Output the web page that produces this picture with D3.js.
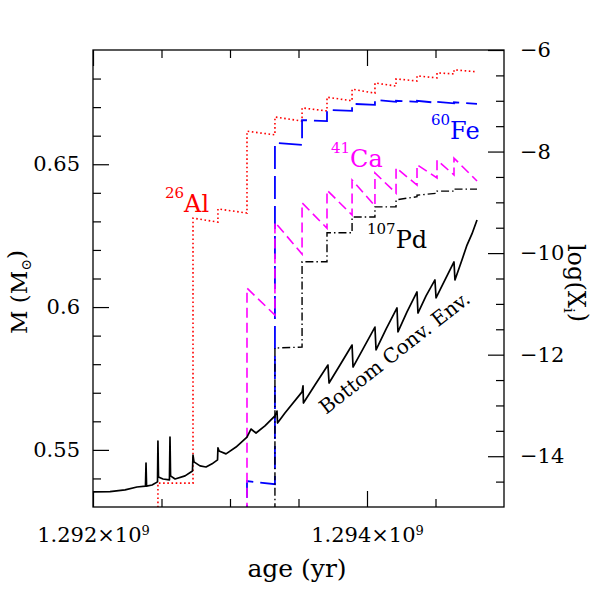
<!DOCTYPE html>
<html>
<head>
<meta charset="utf-8">
<script src="https://cdn.jsdelivr.net/npm/d3@7"></script>
<style>
  body { margin: 0; background: #fff; }
  text { font-family: "DejaVu Serif", serif; }
</style>
</head>
<body>
<div id="chart"></div>
<script>
// thermal pulse ages (yr) and end of run
var pulseAge = [1.292474e9, 1.292730e9, 1.292912e9, 1.293124e9, 1.293328e9, 1.293526e9,
                1.293708e9, 1.293891e9, 1.294058e9, 1.294212e9, 1.294365e9, 1.294511e9, 1.294635e9];
var lastAge = 1.294803e9;

// log(X) right after each pulse and just before the next one
var alStart = [-14.53, -9.31, -9.13, -7.60, -7.32, -7.14, -6.93, -6.77, -6.65, -6.57, -6.51, -6.45, -6.39];
var alEnd   = [-14.53, -9.39, -9.21, -7.67, -7.40, -7.20, -7.00, -6.85, -6.71, -6.61, -6.55, -6.47, -6.43];
var feStart = [-14.49, -7.83, -7.38, -7.18, -7.06, -6.98, -7.00, -7.00, -7.02, -7.03];
var feEnd   = [-14.55, -7.87, -7.40, -7.20, -7.08, -7.02, -7.02, -7.04, -7.05, -7.06];
var caStart = [-10.69, -9.39, -9.01, -8.76, -8.56, -8.42, -8.32, -8.26, -8.17, -8.13];
var caEnd   = [-11.22, -10.02, -9.51, -9.25, -9.07, -8.82, -8.66, -8.52, -8.46, -8.58];
var pdStart = [-11.87, -10.17, -9.60, -9.29, -9.09, -8.95, -8.86, -8.78, -8.74];
var pdEnd   = [-11.85, -10.17, -9.60, -9.29, -9.09, -8.89, -8.82, -8.78, -8.74];

// mass coordinate of the bottom of the convective envelope
var envAge = [1.292000e9, 1.292124e9, 1.292234e9, 1.292321e9, 1.292383e9, 1.292387e9, 1.292391e9,
              1.292431e9, 1.292471e9, 1.292474e9, 1.292478e9, 1.292511e9, 1.292558e9, 1.292562e9,
              1.292566e9, 1.292599e9, 1.292672e9, 1.292726e9, 1.292730e9, 1.292737e9, 1.292781e9,
              1.292825e9, 1.292869e9, 1.292909e9, 1.292912e9, 1.292920e9, 1.292971e9, 1.293044e9,
              1.293124e9, 1.293153e9, 1.293190e9, 1.293255e9, 1.293328e9, 1.293343e9, 1.293347e9,
              1.293401e9, 1.293526e9, 1.293533e9, 1.293536e9, 1.293620e9, 1.293715e9, 1.293723e9,
              1.293803e9, 1.293891e9, 1.293898e9, 1.293978e9, 1.294058e9, 1.294066e9, 1.294139e9,
              1.294219e9, 1.294226e9, 1.294292e9, 1.294365e9, 1.294372e9, 1.294431e9, 1.294496e9,
              1.294504e9, 1.294562e9, 1.294635e9, 1.294642e9, 1.294693e9, 1.294730e9, 1.294766e9,
              1.294803e9];
var envMass = [0.5353, 0.5354, 0.5360, 0.5370, 0.5373, 0.5454, 0.5373,
               0.5377, 0.5388, 0.5531, 0.5405, 0.5398, 0.5395, 0.5545,
               0.5409, 0.5398, 0.5409, 0.5426, 0.5482, 0.5458, 0.5444,
               0.5440, 0.5451, 0.5465, 0.5507, 0.5496, 0.5486, 0.5510,
               0.5545, 0.5573, 0.5559, 0.5584, 0.5619, 0.5636, 0.5594,
               0.5629, 0.5703, 0.5724, 0.5664, 0.5727, 0.5797, 0.5734,
               0.5797, 0.5867, 0.5790, 0.5860, 0.5930, 0.5850, 0.5923,
               0.5997, 0.5913, 0.5983, 0.6053, 0.5979, 0.6039, 0.6095,
               0.6032, 0.6088, 0.6158, 0.6095, 0.6165, 0.6217, 0.6256,
               0.6305];

var massTicks = [0.55, 0.6, 0.65];
var logTicks = [-14, -12, -10, -8, -6];
var ageTicks = [1.292e9, 1.294e9];

var width = 599, height = 599;
var pL = 93, pR = 504, pT = 50, pB = 507;

var svg = d3.select('#chart').append('svg').attr('width', width).attr('height', height);

var x = d3.scaleLinear().domain([1.292e9, 1.295e9]).range([pL, pR]);
var yM = d3.scaleLinear().domain([0.53, 0.69]).range([pB, pT]);
var yL = d3.scaleLinear().domain([-15, -6]).range([pB, pT]);

svg.append('clipPath').attr('id', 'plot')
    .append('rect').attr('x', pL).attr('y', pT).attr('width', pR - pL).attr('height', pB - pT);

// step curves: vertical jump at each pulse, straight decay until the next one
function steps(first, start, end) {
    var pts = [[pulseAge[first], -16]];
    for (var i = 0; i < start.length; i++) {
        var t0 = pulseAge[first + i];
        var t1 = first + i + 1 < pulseAge.length ? pulseAge[first + i + 1] : lastAge;
        pts.push([t0, start[i]], [t1, end[i]]);
    }
    return pts;
}

var logLine = d3.line().x(function (d) { return x(d[0]); }).y(function (d) { return yL(d[1]); });
var massLine = d3.line().x(function (d) { return x(d[0]); }).y(function (d) { return yM(d[1]); });

var g = svg.append('g').attr('clip-path', 'url(#plot)');

var curves = [
    { pts: steps(0, alStart, alEnd), color: '#ff0000', dash: '1.6,2.6', w: 1.6 },
    { pts: steps(3, feStart, feEnd), color: '#0000ff', dash: '23,7', w: 1.8 },
    { pts: steps(3, caStart, caEnd), color: '#ff00ff', dash: '10,5', w: 1.6 },
    { pts: steps(4, pdStart, pdEnd), color: '#000000', dash: '8,3,1.5,3', w: 1.4 }
];
curves.forEach(function (c) {
    g.append('path').attr('d', logLine(c.pts))
        .attr('fill', 'none').attr('stroke', c.color)
        .attr('stroke-width', c.w).attr('stroke-dasharray', c.dash);
});

g.append('path').attr('d', massLine(d3.zip(envAge, envMass)))
    .attr('fill', 'none').attr('stroke', '#000').attr('stroke-width', 1.7)
    .attr('stroke-linejoin', 'round');

// axes, ticks pointing inward
function styleAxis(sel) {
    sel.select('.domain').remove();
    sel.selectAll('line').attr('stroke', '#000').attr('stroke-width', 1.2);
    sel.selectAll('text').attr('font-family', '"DejaVu Serif", serif').attr('font-size', 21).attr('fill', '#000');
}

var minorM = d3.range(0.54, 0.685, 0.01).filter(function (v) {
    return massTicks.every(function (t) { return Math.abs(t - v) > 1e-6; });
});
var minorL = d3.range(-14.5, -6, 0.5).filter(function (v) { return v % 2 !== 0; });
var minorX = [1.2925e9, 1.293e9, 1.2935e9, 1.2945e9];

svg.append('g').attr('transform', 'translate(' + pL + ',0)')
    .call(d3.axisLeft(yM).tickValues(massTicks).tickSize(-16).tickPadding(13)
        .tickFormat(function (d) { return String(d); }))
    .call(styleAxis);
svg.append('g').attr('transform', 'translate(' + pL + ',0)')
    .call(d3.axisLeft(yM).tickValues(minorM).tickSize(-8).tickFormat(''))
    .call(styleAxis);

svg.append('g').attr('transform', 'translate(' + pR + ',0)')
    .call(d3.axisRight(yL).tickValues(logTicks).tickSize(-16).tickPadding(16))
    .call(styleAxis);
svg.append('g').attr('transform', 'translate(' + pR + ',0)')
    .call(d3.axisRight(yL).tickValues(minorL).tickSize(-8).tickFormat(''))
    .call(styleAxis);

var xb = svg.append('g').attr('transform', 'translate(0,' + pB + ')')
    .call(d3.axisBottom(x).tickValues(ageTicks).tickSize(-16).tickPadding(20))
    .call(styleAxis);
xb.selectAll('text').text(null).each(function (d) {
    var t = d3.select(this);
    t.append('tspan').text(d3.format('.3f')(d / 1e9) + '×10');
    t.append('tspan').attr('font-size', 13).attr('dy', '-0.55em').text('9');
});
svg.append('g').attr('transform', 'translate(0,' + pB + ')')
    .call(d3.axisBottom(x).tickValues(minorX).tickSize(-8).tickFormat(''))
    .call(styleAxis);
svg.append('g').attr('transform', 'translate(0,' + pT + ')')
    .call(d3.axisTop(x).tickValues(ageTicks).tickSize(-16).tickFormat(''))
    .call(styleAxis);
svg.append('g').attr('transform', 'translate(0,' + pT + ')')
    .call(d3.axisTop(x).tickValues(minorX).tickSize(-8).tickFormat(''))
    .call(styleAxis);

svg.append('rect').attr('x', pL).attr('y', pT)
    .attr('width', pR - pL).attr('height', pB - pT)
    .attr('fill', 'none').attr('stroke', '#000').attr('stroke-width', 1.3);

// axis titles
svg.append('text').attr('x', 297).attr('y', 577).attr('text-anchor', 'middle')
    .attr('font-size', 25).text('age (yr)');

var yt = svg.append('text').attr('transform', 'translate(27,292) rotate(-90)')
    .attr('text-anchor', 'middle').attr('font-size', 23);
yt.append('tspan').text('M (M');
yt.append('tspan').attr('font-size', 14).attr('dy', '0.3em').text('⊙');
yt.append('tspan').attr('dy', '-0.3em').text(')');

var rt = svg.append('text').attr('transform', 'translate(568,283) rotate(90)')
    .attr('text-anchor', 'middle').attr('font-size', 24);
rt.append('tspan').text('log(X');
rt.append('tspan').attr('font-size', 15).attr('dy', '0.3em').text('i');
rt.append('tspan').attr('dy', '-0.3em').text(')');

// isotope labels
function isoLabel(px, py, mass, name, color) {
    var t = svg.append('text').attr('x', px).attr('y', py).attr('fill', color).attr('font-size', 24);
    t.append('tspan').attr('font-size', 15).attr('dy', '-0.6em').text(mass);
    t.append('tspan').attr('dy', '0.6em').text(name);
}
isoLabel(165, 207, '26', 'Al', '#ff0000');
isoLabel(431, 134, '60', 'Fe', '#0000ff');
isoLabel(331, 162, '41', 'Ca', '#ff00ff');
isoLabel(367, 243, '107', 'Pd', '#000000');

svg.append('text').attr('transform', 'translate(326,415) rotate(-38)')
    .attr('font-size', 20).text('Bottom Conv. Env.');
</script>
</body>
</html>
